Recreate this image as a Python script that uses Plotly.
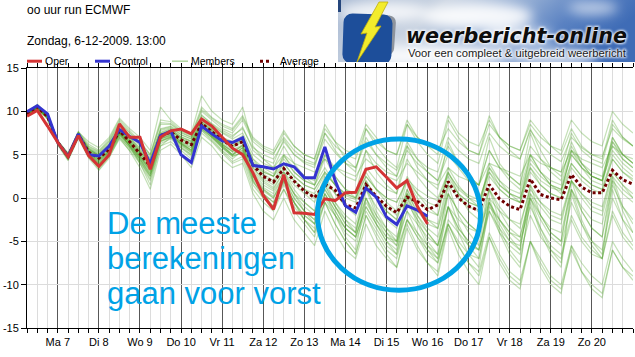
import base64
import plotly.graph_objects as go

# ---------------- data ----------------
hours_eps = list(range(6, 361, 6))      # +6h .. +360h after 00 UTC run of 6-12-2009
hours_det = list(range(6, 241, 6))      # +6h .. +240h

day_hours = list(range(24, 337, 24))
day_labels = ["Ma 7", "Di 8", "Wo 9", "Do 10", "Vr 11", "Za 12", "Zo 13",
              "Ma 14", "Di 15", "Wo 16", "Do 17", "Vr 18", "Za 19", "Zo 20"]
y_ticks = [-15, -10, -5, 0, 5, 10, 15]

oper = [9.45, 10.1, 8.3, 6.4, 4.75, 7.2, 4.9, 3.65, 5.0, 8.55, 7.0, 7.0, 3.3, 7.0, 7.75, 7.95,
        7.4, 9.1, 8.3, 7.05, 5.75, 5.0, 2.9, 0.3, -1.3, 2.7, -1.7, -1.75, -1.9, -0.1, -0.3, 0.6,
        0.65, 3.3, 3.6, 2.4, 1.15, 2.0, -0.95, -3.0]
control = [9.95, 10.65, 9.7, 6.4, 4.8, 7.4, 5.0, 4.85, 6.0, 7.9, 7.1, 6.4, 3.95, 7.2, 7.7, 5.0,
           4.1, 8.3, 7.4, 6.6, 6.4, 6.95, 3.75, 3.6, 3.35, 3.95, 3.6, 2.35, 2.35, 5.9, 2.0, -0.9,
           -1.65, 1.15, 0.1, -2.2, -3.05, -0.9, -1.4, -2.1]
average = [9.7, 10.5, 9.4, 6.4, 4.8, 7.3, 5.3, 4.6, 5.65, 7.75, 6.5, 5.1, 3.7, 7.2, 7.6, 6.7,
           6.15, 8.6, 7.7, 6.7, 5.95, 6.5, 3.8, 2.5, 1.85, 3.4, 1.95, 0.8, 0.05, 1.6, 0.9, -0.8,
           -1.15, 1.55, 0.2, -0.95, -1.7, 0.1, -0.4, -1.35, -0.8, 1.9, 0.0, -0.95, -1.45, 1.55,
           -0.1, -0.95, -1.35, 2.2, 0.4, 0.0, -0.2, 2.7, 1.25, 0.6, 0.6, 3.2, 2.1, 1.6]

member_01 = [9.9, 10.7, 9.6, 6.5, 5.0, 7.5, 5.8, 5.2, 6.3, 8.4, 7.2, 6.0, 4.6, 8.0, 8.3, 7.5, 7.0, 9.5, 8.6, 7.8, 7.2, 8.0,
             5.8, 5.0, 4.5, 6.5, 5.0, 4.2, 3.8, 6.8, 5.2, 4.0, 3.5, 6.5, 5.0, 4.0, 3.2, 6.0, 4.5, 3.5, 3.0,
             7.0, 5.5, 4.5, 4.0, 7.5, 6.0, 5.0, 4.5, 7.8, 6.2, 5.0, 4.2, 7.0, 5.8, 5.0, 4.8, 8.0, 6.8, 6.0]
member_02 = [9.5, 10.3, 9.2, 6.2, 4.5, 7.0, 4.8, 3.8, 5.0, 7.0, 5.8, 4.2, 2.5, 6.5, 7.0, 5.8, 5.0, 7.8, 6.8, 5.5, 4.5, 5.5,
             2.5, 1.0, 0.2, 2.0, 0.0, -1.5, -2.5, 0.5, -1.5, -3.5, -4.5, -1.0, -3.0, -5.0, -6.0, -2.5, -4.5, -6.0, -7.0,
             -3.0, -5.5, -7.5, -8.5, -4.0, -6.5, -8.5, -9.5, -5.0, -7.0, -9.0, -10.0, -5.5, -7.5, -9.0, -10.0, -5.0, -7.0, -8.5]
member_03 = [9.6, 10.4, 9.3, 6.3, 4.6, 7.2, 5.5, 4.9, 5.9, 7.9, 6.3, 4.8, 3.2, 6.8, 7.3, 6.4, 5.5, 8.2, 7.3, 6.2, 5.4, 6.0,
             3.5, 2.2, 1.5, 3.5, 2.0, 1.0, 0.5, 2.8, 1.5, 0.3, -0.2, 2.5, 1.0, 0.0, -0.5, 2.2, 1.0, 0.2, -0.3,
             2.8, 1.2, 0.3, -0.2, 3.0, 1.5, 0.5, 0.0, 3.5, 2.0, 1.2, 0.8, 4.0, 2.5, 1.5, 1.0, 4.5, 3.0, 2.2]
member_04 = [9.8, 10.6, 9.5, 6.4, 4.9, 7.4, 5.0, 4.2, 5.3, 7.4, 6.0, 4.5, 2.8, 6.9, 7.4, 6.2, 5.2, 8.0, 7.0, 5.8, 4.8, 5.2,
             1.8, 0.5, -0.5, 1.5, -0.5, -2.0, -3.0, 0.0, -2.0, -4.0, -5.0, -1.5, -3.5, -5.5, -6.5, -2.5, -4.0, -5.5, -6.5,
             -1.0, -3.5, -5.0, -6.0, -0.5, -3.0, -5.0, -6.0, 0.5, -2.0, -4.0, -5.0, 1.0, -1.5, -3.5, -4.5, 1.5, -1.0, -2.5]
member_05 = [9.7, 10.5, 9.5, 6.6, 5.1, 7.7, 6.2, 5.5, 6.8, 9.0, 7.8, 6.5, 5.0, 9.0, 8.8, 7.8, 7.3, 10.5, 9.3, 8.5, 8.0, 9.5,
             7.0, 6.0, 5.5, 7.8, 6.0, 5.0, 4.5, 8.0, 6.5, 5.5, 5.0, 8.5, 7.0, 5.5, 5.0, 9.0, 7.0, 6.0, 5.0,
             9.5, 7.5, 6.5, 6.0, 9.0, 7.0, 6.0, 5.5, 8.5, 7.0, 6.0, 5.5, 9.0, 7.5, 6.5, 6.0, 10.0, 8.5, 7.5]
member_06 = [9.6, 10.4, 9.3, 6.3, 4.4, 7.1, 5.0, 3.3, 4.8, 7.5, 6.0, 4.0, 1.5, 6.0, 7.0, 6.0, 5.0, 8.3, 7.2, 6.0, 5.0, 6.2,
             2.5, 0.5, -1.0, 3.0, 0.5, -1.5, -3.0, 2.0, -0.5, -2.5, -4.0, 1.5, -1.5, -3.5, -5.0, 1.0, -2.0, -4.0, -5.5,
             1.5, -2.0, -4.0, -5.5, 1.0, -2.5, -4.5, -6.0, 1.5, -2.0, -4.0, -5.0, 2.0, -1.5, -3.5, -4.5, 2.5, -1.0, -3.0]
member_07 = [9.7, 10.5, 9.4, 6.4, 4.8, 7.3, 5.2, 4.4, 5.5, 7.6, 6.3, 5.0, 3.5, 7.0, 7.5, 6.5, 6.0, 8.5, 7.4, 6.2, 5.3, 5.5,
             2.8, 1.2, 0.5, 2.5, 0.5, -1.0, -2.0, 1.0, -1.0, -3.0, -4.0, 0.0, -2.5, -4.5, -5.5, -1.5, -4.0, -6.0, -7.5,
             -3.0, -5.5, -7.5, -9.0, -4.5, -7.0, -9.0, -10.0, -5.0, -7.5, -9.5, -10.5, -6.0, -8.5, -10.0, -11.0, -6.0, -8.0, -9.0]
member_08 = [9.8, 10.6, 9.5, 6.5, 4.9, 7.3, 5.6, 5.0, 6.0, 8.0, 6.8, 5.5, 4.2, 7.6, 8.0, 7.0, 6.5, 9.0, 8.0, 7.0, 6.5, 7.2,
             4.5, 3.5, 2.8, 4.5, 3.0, 2.0, 1.5, 3.5, 1.5, 0.0, -0.5, 2.0, 0.0, -1.5, -2.5, 1.0, -1.0, -2.5, -3.0,
             2.0, 0.5, -0.5, -1.0, 3.5, 2.0, 1.0, 0.5, 4.5, 3.0, 2.0, 1.5, 5.5, 4.0, 3.0, 2.5, 6.5, 5.0, 4.0]
member_09 = [9.6, 10.4, 9.3, 6.2, 4.6, 7.1, 4.7, 3.5, 4.8, 6.8, 5.5, 4.0, 2.0, 6.0, 6.5, 5.5, 4.5, 7.5, 6.5, 5.2, 4.0, 4.5,
             1.0, -0.5, -1.5, 1.0, -1.0, -2.5, -3.5, -0.5, -2.0, -3.5, -4.5, -1.0, -3.0, -4.5, -5.0, -1.5, -3.0, -4.5, -5.5,
             -1.0, -2.5, -3.5, -4.0, 0.0, -1.5, -2.5, -3.0, 1.0, -0.5, -1.5, -2.0, 2.0, 0.5, -0.5, -1.0, 3.0, 1.5, 0.5]
member_10 = [9.7, 10.5, 9.4, 6.4, 4.7, 7.2, 5.4, 4.7, 5.6, 7.7, 6.6, 5.3, 4.0, 7.4, 7.8, 6.8, 6.3, 8.8, 7.8, 6.8, 6.0, 6.8,
             4.0, 2.8, 2.0, 4.0, 2.5, 1.5, 1.0, 3.0, 1.5, 0.5, 0.0, 3.5, 2.0, 1.0, 0.5, 4.5, 2.5, 1.0, 0.0,
             3.0, 0.5, -1.5, -2.5, 1.0, -1.5, -3.5, -4.5, 0.0, -2.5, -4.5, -5.5, -0.5, -3.0, -5.0, -6.0, 0.0, -2.5, -4.0]
member_11 = [9.9, 10.8, 9.7, 6.6, 5.2, 7.6, 6.5, 5.8, 7.0, 9.2, 8.0, 7.0, 5.5, 10.5, 9.0, 8.0, 7.5, 11.8, 10.0, 9.0, 8.5, 10.5,
             6.0, 4.5, 3.5, 6.0, 4.0, 2.5, 1.5, 4.5, 2.5, 1.0, 0.0, 3.0, 1.0, -0.5, -1.5, 2.5, 0.5, -1.0, -2.0,
             3.5, 1.5, 0.0, -1.0, 4.0, 2.0, 0.5, -0.5, 5.0, 3.0, 1.5, 0.5, 5.5, 3.5, 2.0, 1.5, 6.5, 4.5, 3.5]
member_12 = [9.5, 10.3, 9.2, 6.3, 4.6, 7.1, 5.1, 4.3, 5.3, 7.3, 6.1, 4.7, 3.0, 6.6, 7.0, 6.2, 5.6, 8.0, 7.0, 6.0, 5.0, 5.8,
             2.5, 1.0, 0.0, 2.0, -0.5, -2.5, -4.0, -0.5, -3.0, -5.0, -6.5, -2.0, -4.0, -6.0, -7.0, -2.5, -4.5, -6.5, -7.5,
             -2.5, -4.0, -5.5, -6.0, -1.0, -2.5, -4.0, -4.5, 0.5, -1.0, -2.5, -3.0, 2.0, 0.5, -1.0, -1.5, 3.0, 1.5, 0.0]
member_13 = [9.7, 10.6, 9.4, 6.5, 4.9, 7.4, 5.7, 4.9, 6.0, 8.1, 6.9, 5.4, 4.0, 7.5, 7.9, 7.1, 6.6, 9.2, 8.1, 7.0, 6.2, 7.0,
             4.5, 3.0, 2.5, 5.0, 3.0, 2.0, 1.5, 5.0, 2.5, 1.0, 0.5, 5.5, 3.0, 1.5, 0.5, 6.0, 3.5, 2.0, 1.0,
             6.5, 4.0, 2.5, 1.5, 7.0, 4.0, 2.5, 1.5, 7.5, 4.5, 3.0, 2.0, 6.5, 4.0, 2.5, 2.0, 7.0, 5.0, 4.0]
member_14 = [9.6, 10.4, 9.3, 6.3, 4.7, 7.2, 5.2, 4.5, 5.4, 7.5, 6.2, 4.8, 3.3, 6.8, 7.2, 6.3, 5.8, 8.2, 7.2, 6.2, 5.4, 6.0,
             3.0, 1.5, 0.8, 2.5, 0.5, -0.5, -1.5, 1.0, -1.0, -2.5, -3.5, 0.0, -2.0, -3.5, -4.5, -0.5, -2.5, -4.0, -5.5,
             -1.0, -3.5, -5.0, -6.0, -1.5, -4.0, -5.5, -6.5, -2.0, -4.5, -6.0, -7.0, -2.5, -5.0, -6.5, -7.0, -2.0, -4.5, -6.0]
member_15 = [9.8, 10.5, 9.5, 6.5, 5.0, 7.4, 5.6, 5.0, 6.1, 8.0, 7.0, 5.8, 4.5, 7.8, 8.1, 7.3, 6.8, 9.3, 8.4, 7.5, 6.8, 7.5,
             5.0, 4.0, 3.5, 5.0, 4.0, 3.5, 3.0, 4.5, 3.5, 3.0, 2.5, 4.5, 3.5, 2.5, 2.0, 4.0, 3.0, 2.0, 1.5,
             3.5, 2.5, 2.0, 1.5, 4.0, 3.5, 3.0, 2.5, 5.0, 4.0, 3.5, 3.0, 5.5, 4.5, 4.0, 3.5, 6.0, 5.0, 4.5]
member_16 = [9.5, 10.2, 9.1, 6.1, 4.3, 6.9, 4.6, 3.2, 4.6, 7.0, 5.4, 3.5, 1.0, 5.5, 6.2, 5.0, 3.5, 7.0, 6.0, 4.5, 3.5, 4.0,
             0.5, -1.5, -2.5, 0.0, -2.5, -4.0, -5.5, -1.5, -4.0, -6.0, -7.0, -3.0, -5.5, -7.0, -8.0, -3.5, -6.0, -7.5, -8.5,
             -3.0, -5.0, -6.5, -7.0, -1.5, -3.5, -5.0, -5.5, 0.0, -2.0, -3.5, -4.0, 1.0, -1.0, -2.5, -3.0, 2.0, 0.5, -0.5]
member_17 = [9.7, 10.5, 9.4, 6.4, 4.8, 7.3, 5.3, 4.5, 5.5, 7.8, 6.4, 4.9, 3.4, 7.1, 7.7, 6.9, 6.1, 8.7, 7.8, 6.6, 5.8, 6.6,
             3.8, 2.5, 1.8, 3.5, 2.0, 1.0, 0.0, 2.0, 0.5, -0.8, -1.5, 1.5, 0.0, -1.0, -2.0, 0.5, -1.0, -2.5, -3.5,
             0.5, -1.5, -3.0, -4.0, -0.5, -2.5, -4.0, -5.0, -1.0, -3.5, -5.5, -6.5, -2.0, -4.5, -6.0, -7.0, -1.5, -4.0, -5.5]
member_18 = [9.8, 10.6, 9.6, 6.6, 5.0, 7.5, 5.9, 5.3, 6.5, 8.6, 7.5, 6.2, 4.8, 8.5, 8.5, 7.6, 7.0, 10.0, 9.0, 8.0, 7.5, 9.0,
             6.5, 5.5, 5.0, 7.5, 6.0, 5.0, 4.5, 8.5, 6.5, 4.5, 3.5, 7.0, 5.0, 3.5, 2.5, 6.5, 4.5, 3.0, 2.0,
             6.0, 4.0, 2.5, 1.5, 5.5, 3.5, 2.0, 1.0, 5.0, 3.0, 1.5, 1.0, 5.0, 3.5, 2.5, 2.0, 6.0, 4.5, 3.5]
member_19 = [9.6, 10.5, 9.3, 6.3, 4.5, 7.2, 5.0, 4.0, 5.2, 7.6, 6.0, 4.4, 2.5, 6.6, 7.2, 6.3, 5.4, 8.3, 7.1, 5.9, 4.9, 5.8,
             2.0, 0.0, -1.0, 2.0, -0.5, -2.5, -4.0, 0.5, -2.0, -4.5, -6.0, 0.0, -3.0, -5.0, -6.5, 0.5, -2.5, -5.0, -6.5,
             0.5, -3.0, -5.5, -7.0, 0.0, -3.5, -6.0, -7.5, -0.5, -4.0, -6.5, -8.0, 0.5, -3.0, -5.5, -7.0, 1.0, -2.5, -5.0]
member_20 = [9.7, 10.4, 9.4, 6.4, 4.8, 7.3, 5.4, 4.8, 5.8, 7.6, 6.5, 5.2, 3.8, 7.3, 7.5, 6.6, 6.2, 8.6, 7.6, 6.6, 5.9, 6.4,
             3.5, 2.0, 1.2, 3.0, 1.5, 0.5, -0.5, 2.5, 0.5, -1.0, -2.0, 2.0, 0.0, -1.5, -2.5, 2.0, 0.0, -1.5, -2.0,
             3.0, 1.0, 0.0, -0.5, 3.5, 1.5, 0.5, 0.0, 4.0, 2.5, 1.5, 1.0, 5.0, 3.5, 2.5, 2.0, 5.5, 4.0, 3.0]
member_21 = [9.6, 10.5, 9.4, 6.3, 4.7, 7.3, 5.1, 4.3, 5.4, 7.7, 6.4, 4.9, 3.1, 7.0, 7.5, 6.5, 5.8, 8.5, 7.5, 6.4, 5.6, 6.1,
             3.2, 1.8, 1.0, 3.0, 1.0, -0.5, -1.5, 1.5, -0.5, -2.0, -3.0, 1.0, -1.0, -2.5, -3.5, 0.0, -2.0, -3.5, -4.5,
             0.5, -1.5, -3.0, -4.0, 1.0, -1.0, -2.5, -3.5, 1.5, -0.5, -2.0, -2.5, 2.0, 0.0, -1.5, -2.0, 2.5, 1.0, 0.0]
member_22 = [9.8, 10.7, 9.5, 6.5, 5.0, 7.5, 5.7, 5.1, 6.2, 8.3, 7.0, 5.7, 4.3, 7.9, 8.2, 7.3, 6.8, 9.6, 8.5, 7.6, 7.0, 8.2,
             5.5, 4.5, 4.0, 6.8, 5.0, 4.0, 3.5, 7.5, 5.5, 4.0, 3.0, 8.0, 6.0, 4.5, 3.5, 8.5, 6.5, 5.0, 4.0,
             9.0, 7.0, 5.5, 5.0, 9.5, 7.0, 5.5, 4.5, 8.0, 5.5, 3.5, 2.5, 6.0, 4.0, 2.5, 2.0, 7.0, 5.0, 4.0]
member_23 = [9.6, 10.4, 9.3, 6.3, 4.6, 7.2, 5.1, 4.1, 5.3, 7.5, 6.1, 4.6, 2.8, 6.8, 7.3, 6.3, 5.5, 8.4, 7.2, 6.0, 5.0, 5.8,
             2.2, 0.8, 0.0, 2.5, 0.0, -1.5, -2.5, 1.5, -1.0, -3.0, -4.0, 1.0, -2.0, -4.0, -5.5, 0.0, -3.0, -5.5, -7.0,
             -1.0, -4.0, -6.5, -8.0, -0.5, -4.0, -6.5, -8.0, 0.0, -3.5, -6.0, -7.5, 1.0, -2.5, -5.0, -6.5, 2.0, -1.5, -4.0]
member_24 = [9.8, 10.6, 9.5, 6.5, 4.9, 7.4, 5.5, 4.9, 5.9, 7.9, 6.7, 5.4, 4.0, 7.4, 7.8, 7.0, 6.5, 8.9, 7.9, 7.0, 6.3, 7.0,
             4.2, 3.2, 2.5, 4.8, 3.5, 2.5, 2.0, 5.0, 3.5, 2.5, 2.0, 5.5, 4.0, 3.0, 2.5, 5.5, 4.0, 3.0, 2.0,
             5.0, 3.5, 2.0, 1.5, 5.5, 3.5, 2.5, 1.5, 6.0, 4.5, 3.5, 3.0, 7.5, 5.5, 4.5, 4.0, 8.5, 7.0, 6.0]
member_25 = [9.7, 10.4, 9.3, 6.4, 4.7, 7.1, 5.0, 4.0, 5.1, 7.3, 5.9, 4.5, 2.6, 6.5, 7.1, 6.1, 5.3, 8.0, 7.0, 5.8, 4.8, 5.3,
             2.0, 0.5, -0.5, 1.8, -0.5, -2.0, -3.0, 0.5, -1.5, -3.5, -4.5, -0.5, -2.5, -4.0, -5.0, 0.5, -1.5, -3.0, -3.5,
             1.5, 0.0, -1.0, -1.5, 2.5, 1.0, 0.0, -0.5, 3.0, 1.5, 0.5, 0.0, 4.0, 2.5, 1.5, 1.0, 5.0, 3.5, 2.5]
member_26 = [9.9, 10.7, 9.6, 6.6, 5.1, 7.6, 6.0, 5.4, 6.6, 8.8, 7.6, 6.4, 5.0, 8.7, 8.6, 7.7, 7.2, 10.2, 9.2, 8.3, 7.8, 9.3,
             6.8, 5.8, 5.2, 7.0, 5.5, 4.5, 4.0, 7.5, 6.0, 5.0, 4.5, 8.0, 6.5, 5.5, 5.0, 8.5, 7.0, 6.0, 5.5,
             8.0, 6.5, 5.5, 5.0, 8.5, 7.0, 6.0, 5.5, 9.0, 7.5, 6.0, 5.0, 8.0, 6.0, 5.0, 4.5, 9.0, 7.0, 6.0]
member_27 = [9.5, 10.3, 9.2, 6.2, 4.5, 7.0, 4.9, 3.9, 5.0, 7.2, 5.7, 4.3, 2.2, 6.3, 6.8, 5.8, 4.8, 7.8, 6.6, 5.3, 4.2, 4.8,
             1.5, 0.0, -1.0, 1.0, -1.5, -3.0, -4.5, -0.5, -3.0, -5.0, -6.5, -2.0, -4.5, -6.5, -8.0, -3.0, -5.5, -7.5, -9.0,
             -3.5, -6.5, -8.5, -10.0, -4.5, -7.5, -9.5, -10.5, -5.0, -8.0, -10.0, -11.0, -5.5, -8.5, -10.5, -11.5, -6.0, -8.0, -9.5]
member_28 = [9.7, 10.5, 9.4, 6.4, 4.8, 7.3, 5.4, 4.6, 5.7, 7.8, 6.6, 5.2, 3.7, 7.3, 7.7, 6.8, 6.2, 8.7, 7.8, 6.8, 6.0, 6.7,
             4.0, 3.0, 2.5, 4.0, 2.5, 1.5, 1.0, 3.0, 1.5, 0.5, 0.0, 2.5, 1.0, 0.0, -0.5, 2.0, 0.5, -0.5, -1.0,
             2.5, 0.5, -0.5, -1.0, 3.0, 1.0, 0.0, -0.5, 3.5, 1.5, 0.5, 0.0, 3.5, 2.0, 1.0, 0.5, 4.5, 3.0, 2.0]

members = [member_01, member_02, member_03, member_04, member_05, member_06, member_07,
           member_08, member_09, member_10, member_11, member_12, member_13, member_14,
           member_15, member_16, member_17, member_18, member_19, member_20, member_21,
           member_22, member_23, member_24, member_25, member_26, member_27, member_28]

# ---------------- styles ----------------
RED = "rgb(212,52,52)"
BLUE = "rgb(52,52,208)"
AVG = "rgb(112,0,0)"
MEMBER = "rgba(70,160,30,0.32)"
CYAN = "rgb(0,162,230)"
FONT = "Liberation Sans, Arial, sans-serif"

fig = go.Figure()
for m in members:
    fig.add_trace(go.Scatter(x=hours_eps[:len(m)], y=m, mode="lines",
                             line=dict(color=MEMBER, width=1.2), showlegend=False,
                             hoverinfo="skip"))
fig.add_trace(go.Scatter(x=hours_eps, y=average, mode="lines", name="Average",
                         line=dict(color=AVG, width=3, dash="3px,2.5px"), showlegend=False))
fig.add_trace(go.Scatter(x=hours_det, y=control, mode="lines", name="Control",
                         line=dict(color=BLUE, width=3), showlegend=False))
fig.add_trace(go.Scatter(x=hours_det, y=oper, mode="lines", name="Oper",
                         line=dict(color=RED, width=3), showlegend=False))

W, H = 635, 357
L, R, T, B = 27, 2, 68, 29
PW, PH = W - L - R, H - T - B


def px(xp):
    return (xp - L) / PW


def py(yp):
    return 1 - (yp - T) / PH


shapes = []
annotations = []

# custom legend
legend_items = [("Oper", RED, 3, "solid", 27, 42, 43),
                ("Control", BLUE, 3, "solid", 95, 110, 111.5),
                ("Members", "rgb(178,214,160)", 1.5, "solid", 172, 188, 189),
                ("Average", AVG, 3, "dot", 260, 271, 277.5)]
for name, col, w, dash, x0, x1, xt in legend_items:
    shapes.append(dict(type="line", xref="paper", yref="paper", x0=px(x0), x1=px(x1),
                       y0=py(61.2), y1=py(61.2), line=dict(color=col, width=w, dash=dash)))
    annotations.append(dict(text=name, xref="paper", yref="paper", x=px(xt), y=py(60.6),
                            xanchor="left", yanchor="middle", showarrow=False,
                            font=dict(family=FONT, size=10.5, color="black")))

annotations.append(dict(text="oo uur run ECMWF", xref="paper", yref="paper", x=px(24.5), y=py(9.8),
                        xanchor="left", yanchor="middle", showarrow=False,
                        font=dict(family=FONT, size=12, color="black")))
annotations.append(dict(text="Zondag, 6-12-2009. 13:00", xref="paper", yref="paper", x=px(24.5), y=py(40.8),
                        xanchor="left", yanchor="middle", showarrow=False,
                        font=dict(family=FONT, size=12, color="black")))

for txt, yc in [("De meeste", 223), ("berekeningen", 258), ("gaan voor vorst", 293)]:
    annotations.append(dict(text=txt, xref="paper", yref="paper", x=px(104.7), y=py(yc),
                            xanchor="left", yanchor="middle", showarrow=False,
                            font=dict(family=FONT, size=31, color=CYAN)))

shapes.append(dict(type="circle", xref="paper", yref="paper", x0=px(317.5), x1=px(480.5),
                   y0=py(290.3), y1=py(139), line=dict(color=CYAN, width=5)))

# logo (drawn as an inline SVG image)
logo_svg = """<svg xmlns="http://www.w3.org/2000/svg" width="297" height="62" viewBox="0 0 297 62">
<defs>
<linearGradient id="sky" x1="0" y1="0" x2="1" y2="0.25">
<stop offset="0" stop-color="#a9bad3"/>
<stop offset="0.35" stop-color="#c9d3e1"/>
<stop offset="0.62" stop-color="#8ea9d2"/>
<stop offset="0.8" stop-color="#5a82c2"/>
<stop offset="1" stop-color="#3f6cb6"/>
</linearGradient>
<filter id="blur" x="-50%" y="-50%" width="200%" height="200%"><feGaussianBlur stdDeviation="6"/></filter>
<filter id="glow" x="-10%" y="-50%" width="120%" height="200%"><feGaussianBlur stdDeviation="1.2"/></filter>
</defs>
<rect width="297" height="62" fill="url(#sky)"/>
<g filter="url(#blur)" fill="#ffffff">
<ellipse cx="45" cy="12" rx="45" ry="10" opacity="0.8"/>
<ellipse cx="140" cy="16" rx="55" ry="13" opacity="0.9"/>
<ellipse cx="95" cy="56" rx="80" ry="12" opacity="0.9"/>
<ellipse cx="215" cy="58" rx="45" ry="10" opacity="0.7"/>
<ellipse cx="180" cy="36" rx="35" ry="9" opacity="0.7"/>
<ellipse cx="255" cy="8" rx="25" ry="7" opacity="0.6"/>
</g>
<rect x="0" y="0" width="3" height="12" fill="#25467c"/>
<rect x="30" y="15" width="27" height="40" rx="7" fill="#8d939c" transform="rotate(4 45 35)"/>
<rect x="5" y="14" width="49" height="50" rx="9" fill="#1d4e9a" transform="rotate(2 30 38)"/>
<polygon points="41,2 50,2 37,27 43,26 19,62 29,33 23,34" fill="#f3ec2c" stroke="#bfae10" stroke-width="0.8"/>
<g filter="url(#glow)" fill="#ffffff" opacity="0.9">
<text x="68" y="43" font-family="DejaVu Sans" font-weight="bold" font-style="italic" font-size="21"
 textLength="221" lengthAdjust="spacingAndGlyphs" stroke="#ffffff" stroke-width="2">weerbericht-online</text>
<text x="70" y="56.5" font-family="Liberation Sans, Arial" font-size="10"
 textLength="218" lengthAdjust="spacingAndGlyphs" stroke="#ffffff" stroke-width="1.5">Voor een compleet &amp; uitgebreid weerbericht</text>
</g>
<text x="68" y="43" font-family="DejaVu Sans" font-weight="bold" font-style="italic" font-size="21"
 textLength="221" lengthAdjust="spacingAndGlyphs" fill="#0d0d0d">weerbericht-online</text>
<text x="70" y="56.5" font-family="Liberation Sans, Arial" font-size="10"
 textLength="218" lengthAdjust="spacingAndGlyphs" fill="#1a1a1a">Voor een compleet &amp; uitgebreid weerbericht</text>
</svg>"""
logo_uri = "data:image/svg+xml;base64," + base64.b64encode(logo_svg.encode("utf-8")).decode("ascii")

images = [dict(source=logo_uri, xref="paper", yref="paper", x=px(338), y=py(0),
               sizex=297 / PW, sizey=62 / PH, sizing="stretch", xanchor="left", yanchor="top",
               layer="above")]

fig.update_layout(
    width=W, height=H,
    margin=dict(l=L, r=R, t=T, b=B, pad=0),
    paper_bgcolor="white", plot_bgcolor="white",
    showlegend=False,
    font=dict(family=FONT, size=11, color="black"),
    shapes=shapes, annotations=annotations, images=images,
    hovermode=False,
    xaxis=dict(range=[6, 360], tickmode="array", tickvals=day_hours, ticktext=day_labels,
               ticks="outside", ticklen=4, tickcolor="black", tickwidth=1,
               showgrid=True, gridcolor="rgb(88,88,88)", gridwidth=1,
               showline=True, linecolor="black", linewidth=1, mirror="ticks",
               zeroline=False, tickfont=dict(family=FONT, size=11, color="black"),
               minor=dict(tick0=0, dtick=6, ticks="outside", ticklen=4, tickcolor="black",
                          showgrid=True, gridcolor="rgb(220,220,220)", gridwidth=1)),
    yaxis=dict(range=[-15, 15], tickmode="array", tickvals=y_ticks,
               ticktext=[str(v) for v in y_ticks],
               ticks="outside", ticklen=5, tickcolor="black",
               showgrid=True, gridcolor="rgb(220,220,220)", gridwidth=1,
               showline=True, linecolor="black", linewidth=1, zeroline=False,
               tickfont=dict(family=FONT, size=11, color="black")),
)

# remove the browser's default 8px page margin so the figure sits at the window's corner
fig.write_html("out.html",
               config={"displayModeBar": False, "staticPlot": True},
               post_script="document.body.style.margin='0';document.body.style.padding='0';")
